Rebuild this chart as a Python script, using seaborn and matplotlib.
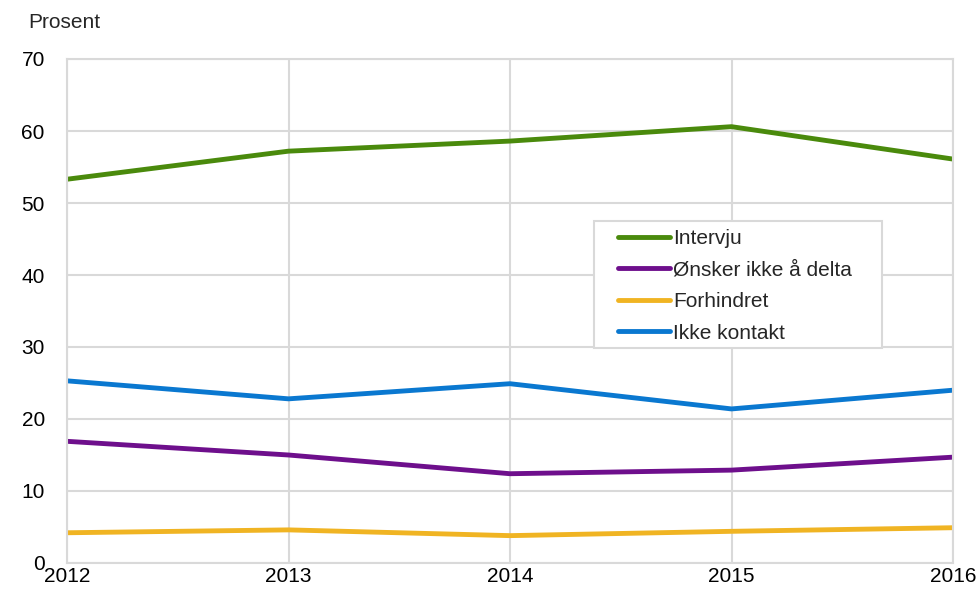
import matplotlib
matplotlib.use("Agg")
import matplotlib.pyplot as plt
import seaborn as sns
import pandas as pd
from matplotlib.patches import Rectangle

years = [2012, 2013, 2014, 2015, 2016]
intervju = [53.3, 57.2, 58.6, 60.6, 56.1]
onsker = [16.9, 15.0, 12.4, 12.9, 14.7]
forhindret = [4.2, 4.6, 3.8, 4.4, 4.9]
ikke_kontakt = [25.3, 22.8, 24.9, 21.4, 24.0]
series_names = ["Intervju", "Ønsker ikke å delta", "Forhindret", "Ikke kontakt"]
colors = ["#4a8a0c", "#6e0f8c", "#f0b423", "#0a78d0"]

sns.set_theme(style="white")
plt.rcParams['font.family'] = ['Liberation Sans', 'DejaVu Sans']

df = pd.DataFrame({
    "year": years * 4,
    "value": intervju + onsker + forhindret + ikke_kontakt,
    "series": sum([[n] * len(years) for n in series_names], []),
})

W, H = 979, 590
fig = plt.figure(figsize=(W/100, H/100), dpi=100)
ax = fig.add_axes([67/W, 1-563/H, (953-67)/W, (563-59)/H])
sns.lineplot(data=df, x="year", y="value", hue="series", hue_order=series_names,
             palette=colors, linewidth=3.5, ax=ax, legend=True)

fs = 15
ax.set_xlim(2012, 2016)
ax.set_ylim(0, 70)
ax.set_xticks(years)
ax.set_xticklabels([str(y) for y in years])
ax.set_yticks(range(0, 71, 10))
ax.grid(True, color="#d9d9d9", linewidth=1.5)
ax.set_axisbelow(True)
for s in ax.spines.values():
    s.set_color("#d9d9d9")
    s.set_linewidth(1.5)
ax.tick_params(axis="both", length=0, labelsize=fs, colors="black")
ax.tick_params(axis="y", pad=16)
ax.tick_params(axis="x", pad=3)
ax.set_xlabel("")
ax.set_ylabel("")
fig.text(28/W, 1-23/H, "Prosent", fontsize=fs, va="center", ha="left")

# legend frame
ax.add_patch(Rectangle((594/W, 1-348/H), (882-594)/W, (348-221)/H,
                       transform=fig.transFigure, facecolor="white",
                       edgecolor="#d9d9d9", linewidth=1.5, zorder=8,
                       clip_on=False))
handles, labels = ax.get_legend_handles_labels()
leg = ax.legend(handles, labels, loc="upper left",
                bbox_to_anchor=(614/W, 1-225/H), bbox_transform=fig.transFigure,
                fontsize=fs, frameon=False, borderpad=0.2,
                handlelength=2.5, handletextpad=0.15, labelspacing=0.6,
                borderaxespad=0)
for h in leg.get_lines():
    h.set_solid_capstyle("round")
leg.set_zorder(9)
fig.savefig("out.png", dpi=100)
